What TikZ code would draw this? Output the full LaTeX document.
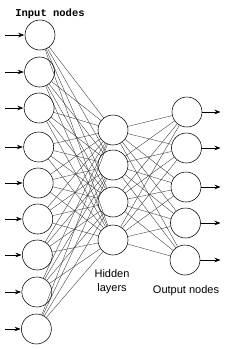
\documentclass[tikz,border=0pt]{standalone}
\usepackage{fontspec}
\setsansfont{Liberation Sans}
\newfontfamily\monofont{Liberation Mono}
\usetikzlibrary{arrows.meta}

\begin{document}
\begin{tikzpicture}[x=1pt,y=-1pt,>={Stealth[length=6pt,width=4.5pt]},
    neuron/.style={draw,circle,line width=0.55pt,minimum size=30pt,inner sep=0pt},
    wire/.style={line width=0.35pt,black!80},
    signal/.style={->,line width=0.6pt,shorten >=0.5pt}]
  \useasboundingbox (0,0) rectangle (235,349);
  % input layer
  \foreach \i/\y in {1/35,2/72,3/108,4/147,5/183,6/219,7/255,8/292,9/329} {
    \node[neuron] (in\i) at ({40-0.45*(\i-1)},\y) {};
    \coordinate (src\i) at (5,\y);
    \draw[signal] (src\i) -- (in\i);
  }
  % hidden layer
  \foreach \j/\y in {1/130,2/165,3/202,4/240}
    \node[neuron] (hid\j) at (113,\y) {};
  % output layer
  \foreach \k/\y in {1/112,2/148,3/187,4/223,5/260} {
    \node[neuron] (out\k) at ({187-0.5*(\k-1)},\y) {};
    \coordinate (dst\k) at (221,\y);
    \draw[signal] (out\k) -- (dst\k);
  }
  % connections
  \foreach \i in {1,...,9}
    \foreach \j in {1,...,4}
      \draw[wire] (in\i) -- (hid\j);
  \foreach \j in {1,...,4}
    \foreach \k in {1,...,5}
      \draw[wire] (hid\j) -- (out\k);
  % labels
  \node[font=\monofont\bfseries\fontsize{10.5}{12}\selectfont] (lin) at (50,14) {Input nodes};
  \node[font=\sffamily\fontsize{11}{14}\selectfont,align=center] (lhid) at (112,281.5) {Hidden\\layers};
  \node[font=\sffamily\fontsize{11}{13}\selectfont] (lout) at (186,291) {Output nodes};
\end{tikzpicture}
\end{document}
